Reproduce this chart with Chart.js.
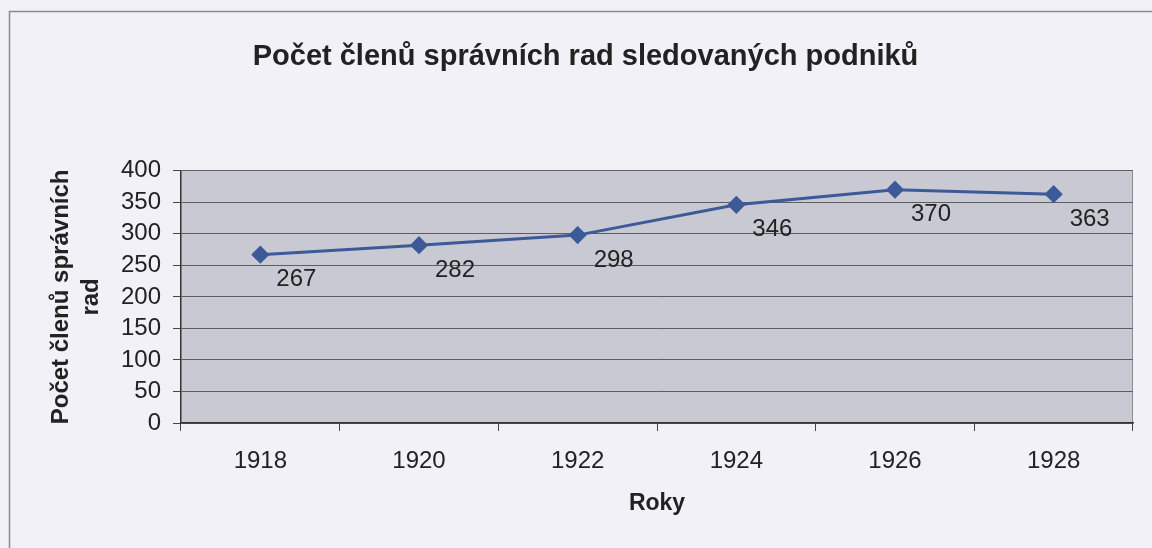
<!DOCTYPE html>
<html>
<head>
<meta charset="utf-8">
<script src="https://cdn.jsdelivr.net/npm/chart.js@4/dist/chart.umd.min.js"></script>
<style>
  html, body { margin: 0; padding: 0; background: #f1f1f7; }
  #wrap { position: relative; width: 1152px; height: 548px; }
</style>
</head>
<body>
<div id="wrap"><canvas id="chart"></canvas></div>
<script>
// data
const years = ['1918', '1920', '1922', '1924', '1926', '1928'];
const members = [267, 282, 298, 346, 370, 363];
const yTicks = [0, 50, 100, 150, 200, 250, 300, 350, 400];

const FONT = "'Liberation Sans', Arial, sans-serif";
const INK = '#222';

// frame + grey plot area
const backdrop = {
  id: 'backdrop',
  beforeDraw(chart) {
    const { ctx, chartArea: a } = chart;
    ctx.save();
    ctx.strokeStyle = '#8a8a8e';
    ctx.lineWidth = 1.5;
    ctx.strokeRect(9.5, 11.5, 2000, 2000);
    ctx.fillStyle = '#c8c9d2';
    ctx.fillRect(a.left, a.top, a.right - a.left, a.bottom - a.top);
    ctx.strokeStyle = '#8d8d92';
    ctx.lineWidth = 1;
    ctx.beginPath();
    ctx.moveTo(a.right - 0.5, a.top);
    ctx.lineTo(a.right - 0.5, a.bottom);
    ctx.stroke();
    ctx.restore();
  }
};

// value labels below-right of each point
const valueLabels = {
  id: 'valueLabels',
  afterDatasetsDraw(chart) {
    const { ctx } = chart;
    const meta = chart.getDatasetMeta(0);
    ctx.save();
    ctx.font = '24px ' + FONT;
    ctx.fillStyle = INK;
    ctx.textAlign = 'center';
    ctx.textBaseline = 'middle';
    meta.data.forEach((pt, i) => {
      ctx.fillText(String(members[i]), pt.x + 36, pt.y + 25);
    });
    ctx.restore();
  }
};

new Chart(document.getElementById('chart'), {
  type: 'line',
  data: {
    labels: years,
    datasets: [{
      data: members,
      borderColor: '#3c5a98',
      backgroundColor: '#3c5a98',
      borderWidth: 3,
      pointStyle: 'rectRot',
      pointRadius: 7,
      pointHoverRadius: 7,
      tension: 0
    }]
  },
  options: {
    responsive: true,
    maintainAspectRatio: false,
    animation: false,
    layout: { padding: { left: 38, right: 19, top: 0, bottom: 0 } },
    plugins: {
      legend: { display: false },
      tooltip: { enabled: false },
      title: {
        display: true,
        text: 'Počet členů správních rad sledovaných podniků',
        color: INK,
        font: { family: FONT, size: 29, weight: 'bold', lineHeight: 1.2 },
        padding: { top: 40, bottom: 96 }
      }
    },
    scales: {
      x: {
        offset: true,
        grid: { offset: true, drawOnChartArea: false, tickLength: 8, tickColor: '#444', lineWidth: 1 },
        border: { display: true, color: '#333', width: 1.5 },
        ticks: { color: INK, font: { family: FONT, size: 24 }, padding: 16, maxRotation: 0 },
        title: {
          display: true, text: 'Roky', color: INK,
          font: { family: FONT, size: 23, weight: 'bold', lineHeight: 1.2 },
          padding: { top: 0, bottom: 31 }
        },
        afterFit(s) { s.height = 125; }
      },
      y: {
        min: 0,
        max: 400,
        afterBuildTicks(s) { s.ticks = yTicks.map(v => ({ value: v })); },
        grid: { color: '#5e5e62', lineWidth: 1, tickLength: 8, tickColor: '#444' },
        border: { display: true, color: '#333', width: 1.5 },
        ticks: { color: INK, font: { family: FONT, size: 24 }, padding: 12, autoSkip: false },
        title: {
          display: true, text: ['Počet členů správních', 'rad'], color: INK,
          font: { family: FONT, size: 24, weight: 'bold', lineHeight: 1.25 },
          padding: { top: 8, bottom: 0 }
        },
        afterFit(s) { s.width = 143; }
      }
    }
  },
  plugins: [backdrop, valueLabels]
});
</script>
</body>
</html>
